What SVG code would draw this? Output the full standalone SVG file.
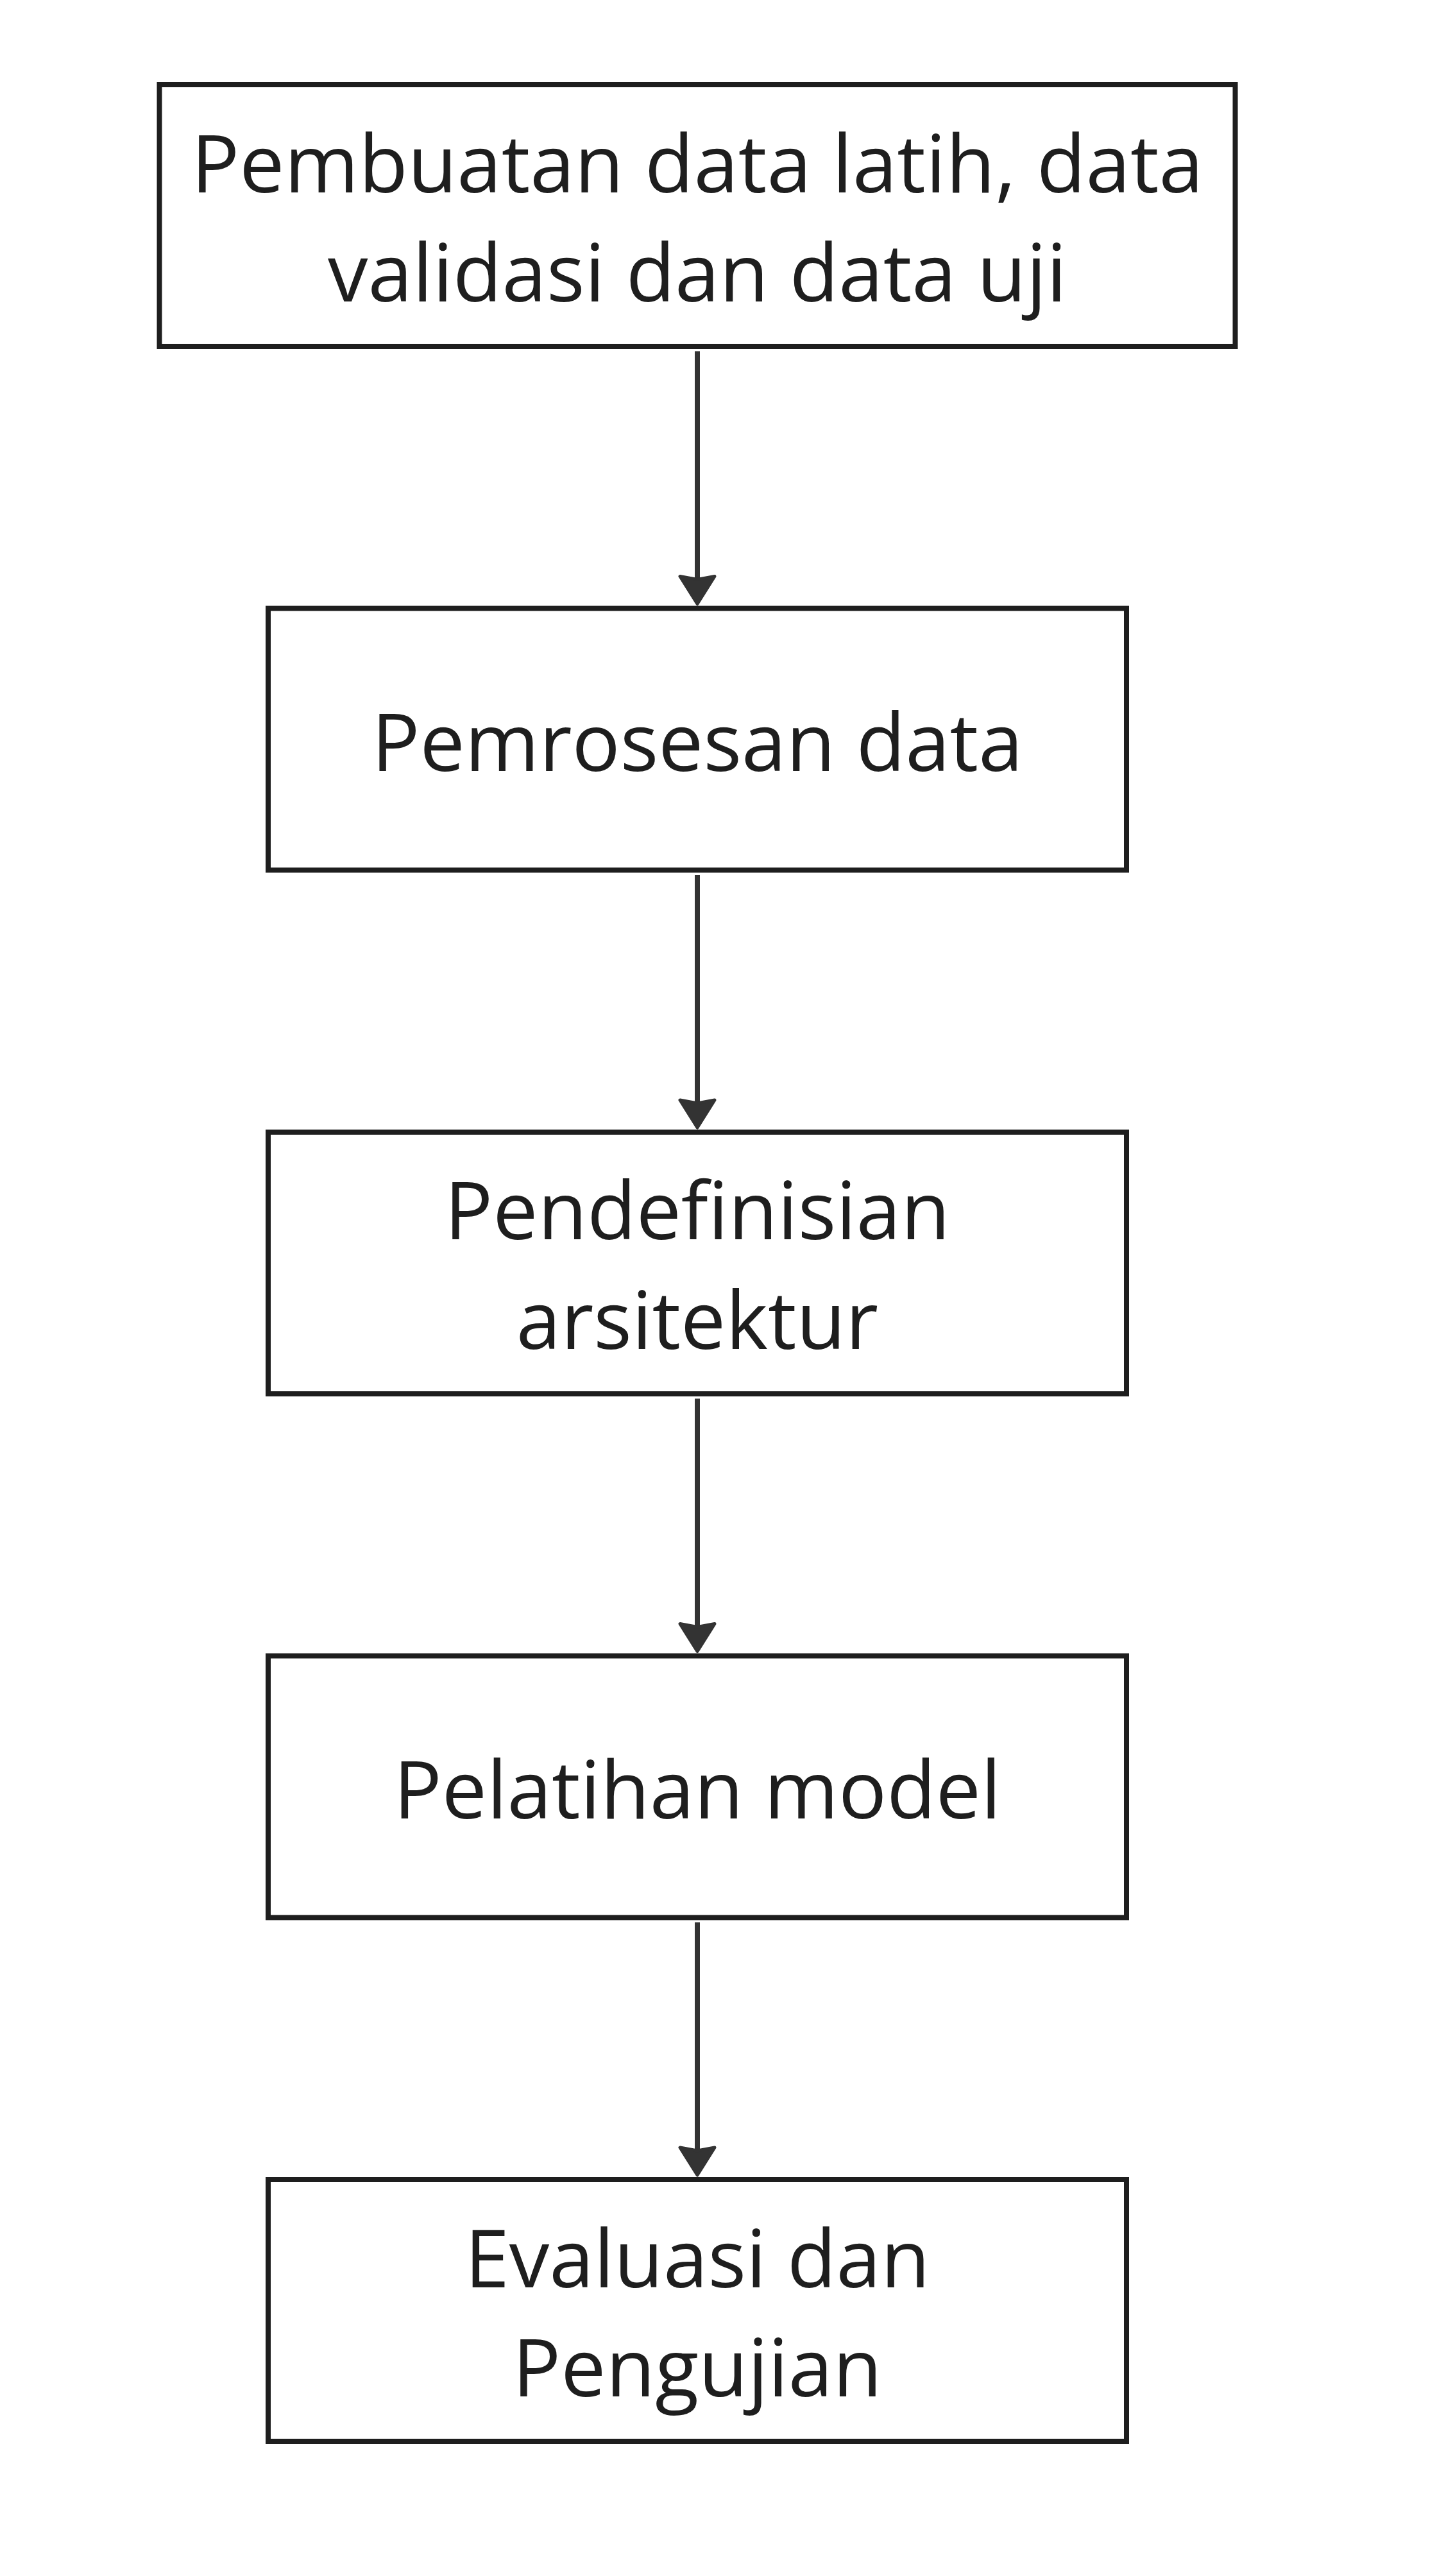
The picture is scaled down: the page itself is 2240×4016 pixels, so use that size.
<svg xmlns="http://www.w3.org/2000/svg" width="2240" height="4016" viewBox="0 0 2240 4016">
  <style>
    .box { fill: #ffffff; stroke: #1e1e1e; stroke-width: 8; }
    .lbl { font-family: "Open Sans", "Noto Sans", "Liberation Sans", sans-serif; font-size: 125px; fill: #1e1e1e; text-anchor: middle; }
    .edge { stroke: #333333; stroke-width: 8; fill: none; marker-end: url(#ah); }
  </style>
  <defs>
    <marker id="ah" markerUnits="userSpaceOnUse" markerWidth="80" markerHeight="80" viewBox="-20 -40 80 80" refX="0" refY="0" orient="auto" overflow="visible">
      <path d="M -5,-27 L 38,0 L -5,27 L 0,0 Z" fill="#333333" stroke="#333333" stroke-width="5" stroke-linejoin="round"/>
    </marker>
  </defs>
  <rect x="0" y="0" width="2240" height="4016" fill="#ffffff"/>
  <g id="connectors">
    <line class="edge" x1="1087" y1="547.5" x2="1087" y2="903.5"/>
    <line class="edge" x1="1087" y1="1364" x2="1087" y2="1720"/>
    <line class="edge" x1="1087" y1="2180.5" x2="1087" y2="2536.5"/>
    <line class="edge" x1="1087" y1="2997" x2="1087" y2="3353"/>
  </g>
  <g id="node1">
    <rect class="box" x="248.5" y="132" width="1677" height="408"/>
    <text class="lbl" x="1087" y="299.5">Pembuatan data latih, data</text>
    <text class="lbl" x="1087" y="470">validasi dan data uji</text>
  </g>
  <g id="node2">
    <rect class="box" x="418" y="948.5" width="1338" height="408"/>
    <text class="lbl" x="1087" y="1201.7">Pemrosesan data</text>
  </g>
  <g id="node3">
    <rect class="box" x="418" y="1765" width="1338" height="408"/>
    <text class="lbl" x="1087" y="1932.3">Pendefinisian</text>
    <text class="lbl" x="1087" y="2103">arsitektur</text>
  </g>
  <g id="node4">
    <rect class="box" x="418" y="2581.5" width="1338" height="408"/>
    <text class="lbl" x="1087" y="2834.7">Pelatihan model</text>
  </g>
  <g id="node5">
    <rect class="box" x="418" y="3398" width="1338" height="408"/>
    <text class="lbl" x="1087" y="3565.5">Evaluasi dan</text>
    <text class="lbl" x="1087" y="3736">Pengujian</text>
  </g>
</svg>
